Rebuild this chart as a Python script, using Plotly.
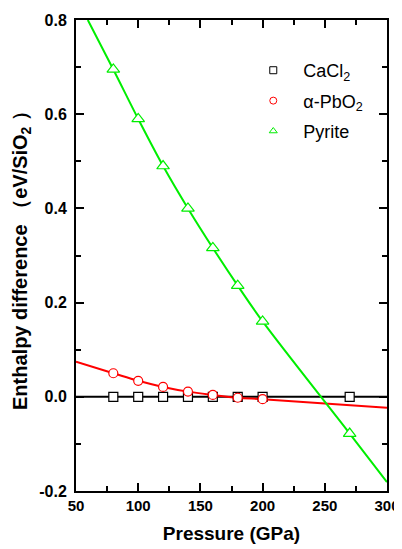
import plotly.graph_objects as go

# ---- data ----
pressure_pts = [80, 100, 120, 140, 160, 180, 200, 270]
cacl2_vals = [0, 0, 0, 0, 0, 0, 0, 0]

pbo2_pressure = [80, 100, 120, 140, 160, 180, 200]
pbo2_vals = [0.050, 0.034, 0.021, 0.011, 0.004, -0.002, -0.005]

pyrite_pressure = [80, 100, 120, 140, 160, 180, 200, 270]
pyrite_vals = [0.695, 0.590, 0.490, 0.400, 0.316, 0.236, 0.160, -0.078]

# fitted curves
cacl2_fit_p = [50, 300]
cacl2_fit_v = [0.0, 0.0]
pbo2_fit_p = [50, 80, 100, 120, 140, 160, 180, 200, 250, 300]
pbo2_fit_v = [0.0745, 0.050, 0.034, 0.021, 0.011, 0.004, -0.002, -0.005, -0.014, -0.023]
pyrite_fit_p = [59.5, 80, 100, 120, 140, 160, 180, 200, 270, 300]
pyrite_fit_v = [0.80, 0.695, 0.590, 0.490, 0.400, 0.316, 0.236, 0.160, -0.078, -0.181]

x_tick_vals = [50, 100, 150, 200, 250, 300]
x_tick_text = ["50", "100", "150", "200", "250", "300"]
y_tick_vals = [-0.2, 0.0, 0.2, 0.4, 0.6, 0.8]
y_tick_text = ["-0.2", "0.0", "0.2", "0.4", "0.6", "0.8"]

names = ["CaCl<sub>2</sub>", "\u03b1-PbO<sub>2</sub>", "Pyrite"]

BLACK = "#000000"
RED = "#ff0000"
GREEN = "#00ee00"
FONT = "Liberation Sans, Arial, sans-serif"

fig = go.Figure()

# fit lines
fig.add_trace(go.Scatter(x=cacl2_fit_p, y=cacl2_fit_v, mode="lines",
                         line=dict(color=BLACK, width=2), showlegend=False, hoverinfo="skip"))
fig.add_trace(go.Scatter(x=pbo2_fit_p, y=pbo2_fit_v, mode="lines",
                         line=dict(color=RED, width=2, shape="spline"), showlegend=False, hoverinfo="skip"))
fig.add_trace(go.Scatter(x=pyrite_fit_p, y=pyrite_fit_v, mode="lines",
                         line=dict(color=GREEN, width=2, shape="spline"), showlegend=False, hoverinfo="skip"))

# data markers
fig.add_trace(go.Scatter(x=pressure_pts, y=cacl2_vals, mode="markers",
                         marker=dict(symbol="square", size=9, color="white", line=dict(color=BLACK, width=1.2)),
                         showlegend=False))
fig.add_trace(go.Scatter(x=pbo2_pressure, y=pbo2_vals, mode="markers",
                         marker=dict(symbol="circle", size=9, color="white", line=dict(color=RED, width=1.2)),
                         showlegend=False))
fig.add_trace(go.Scatter(x=pyrite_pressure, y=pyrite_vals, mode="markers",
                         marker=dict(symbol="triangle-up", size=11, color="white", line=dict(color=GREEN, width=1.2)),
                         showlegend=False))

# legend entries
leg_syms = ["square", "circle", "triangle-up"]
leg_cols = [BLACK, RED, GREEN]
for i, (nm, sym, col) in enumerate(zip(names, leg_syms, leg_cols)):
    fig.add_trace(go.Scatter(x=[None], y=[None], mode="markers", name="  " + nm,
                             legendgroup="g%d" % i,
                             marker=dict(symbol=sym, size=7, color="white", line=dict(color=col, width=1))))

axis_common = dict(
    showline=True, linecolor=BLACK, linewidth=2, mirror="ticks",
    ticks="inside", ticklen=8, tickwidth=1.5, tickcolor=BLACK,
    showgrid=False, zeroline=False, automargin=False,
)

# the page body adds an 8px offset; the figure is sized to fit the window
fig.update_layout(
    width=394, height=541,
    margin=dict(l=68, r=15, t=12, b=58),
    paper_bgcolor="white", plot_bgcolor="white",
    font=dict(family=FONT, color=BLACK),
    xaxis=dict(range=[50, 300], tickvals=x_tick_vals, ticktext=x_tick_text,
               tickfont=dict(family=FONT, size=15, color=BLACK, weight="bold"),
               minor=dict(ticks="inside", ticklen=5, dtick=25, tickcolor=BLACK, tickwidth=1.5),
               title=dict(text="Pressure (GPa)", font=dict(family=FONT, size=19, weight="bold"), standoff=14),
               **axis_common),
    yaxis=dict(range=[-0.2, 0.8], tickvals=y_tick_vals, ticktext=y_tick_text,
               tickfont=dict(family=FONT, size=16, color=BLACK, weight="bold"),
               ticklabelstandoff=4,
               minor=dict(ticks="inside", ticklen=5, dtick=0.1, tickcolor=BLACK, tickwidth=1.5),
               title=dict(text="Enthalpy difference \uff08eV/SiO<sub>2</sub> \uff09",
                          font=dict(family=FONT, size=20, weight="bold"), standoff=6),
               **axis_common),
    legend=dict(x=0.57, y=0.932, xanchor="left", yanchor="top",
                bgcolor="rgba(0,0,0,0)", borderwidth=0,
                font=dict(family=FONT, size=18, color=BLACK),
                tracegroupgap=4, itemsizing="trace"),
)

fig.write_html("out.html")
